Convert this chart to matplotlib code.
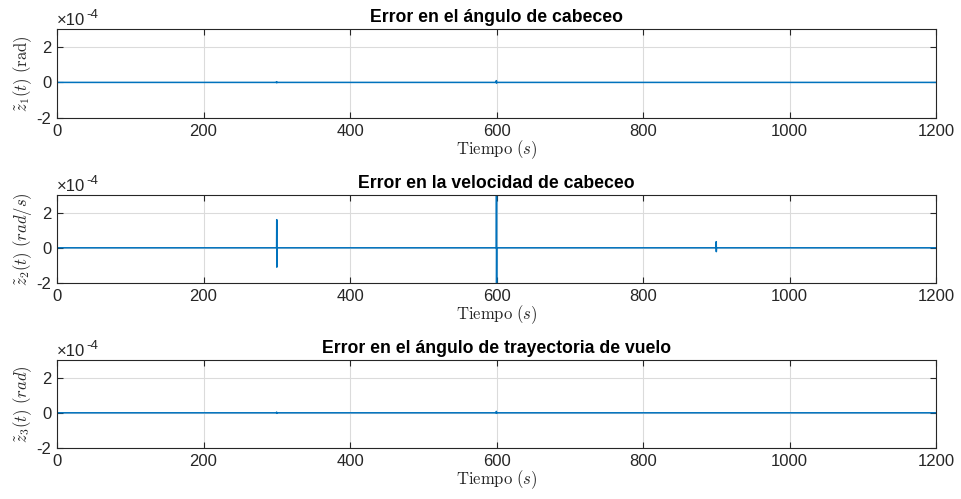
import matplotlib
matplotlib.use("Agg")
import matplotlib.pyplot as plt

plt.rcParams['font.family'] = ['Liberation Sans', 'DejaVu Sans']
plt.rcParams['mathtext.fontset'] = 'cm'

# Data (values in units of 1e-4)
t1 = [0, 299.6, 299.8, 300.0, 300.2, 599.6, 599.8, 600.0, 600.2, 1200]
z1 = [0, 0, 0.04, -0.02, 0, 0, 0.10, -0.04, 0, 0]

t2 = [0, 299.8, 300.0, 300.1, 300.3, 599.8, 600.0, 600.1, 600.3,
      899.8, 900.0, 900.1, 900.3, 1200]
z2 = [0, 0, 1.6, -1.1, 0, 0, 3.5, -2.5, 0,
      0, 0.35, -0.22, 0, 0]

t3 = [0, 299.6, 299.8, 300.0, 300.2, 599.6, 599.8, 600.0, 600.2, 1200]
z3 = [0, 0, 0.04, -0.03, 0, 0, 0.08, -0.03, 0, 0]

titles = ['Error en el ángulo de cabeceo',
          'Error en la velocidad de cabeceo',
          'Error en el ángulo de trayectoria de vuelo']
ylabels = [r'$\tilde{z}_1(t)\ (\mathrm{rad})$',
           r'$\tilde{z}_2(t)\ (rad/s)$',
           r'$\tilde{z}_3(t)\ (rad)$']
xticks = [0, 200, 400, 600, 800, 1000, 1200]
yticks = [-2, 0, 2]
ylim = (-2, 3)
xlim = (0, 1200)

series = [(t1, z1), (t2, z2), (t3, z3)]

fig = plt.figure(figsize=(9.61, 4.99), dpi=100)
left, width = 57/961, (936-57)/961
tops = [29, 195, 360]
bottoms = [118, 283, 448]
dark = (0.15, 0.15, 0.15)
for i in range(3):
    b = 1 - bottoms[i]/499
    h = (bottoms[i]-tops[i])/499
    ax = fig.add_axes([left, b, width, h])
    t, z = series[i]
    ax.plot(t, z, color='#0072BD', lw=1.1)
    ax.set_xlim(*xlim)
    ax.set_ylim(*ylim)
    ax.set_xticks(xticks)
    ax.set_yticks(yticks)
    ax.set_yticklabels([str(v) for v in yticks])
    ax.tick_params(direction='in', top=True, right=True, labelsize=12,
                   colors=dark, length=4, width=0.8, pad=4)
    for s in ax.spines.values():
        s.set_color(dark)
        s.set_linewidth(0.8)
    ax.grid(True, color=(0.86, 0.86, 0.86), lw=0.8)
    ax.set_axisbelow(True)
    ax.set_title(titles[i], fontsize=12.7, fontweight='bold', pad=5)
    ax.set_xlabel(r'$\mathrm{Tiempo}\ (s)$', fontsize=12, labelpad=0, color=dark)
    ax.set_ylabel(ylabels[i], fontsize=12, labelpad=2, color=dark)
    ax.text(0.0, 1.01, '×10', transform=ax.transAxes, fontsize=12,
            va='bottom', ha='left', color=dark)
    ax.annotate('-4', xy=(0, 1), xycoords='axes fraction',
                xytext=(21.5, 5.5), textcoords='offset points', fontsize=9.5,
                va='bottom', ha='left', color=dark)

fig.savefig('out.png', dpi=100)
